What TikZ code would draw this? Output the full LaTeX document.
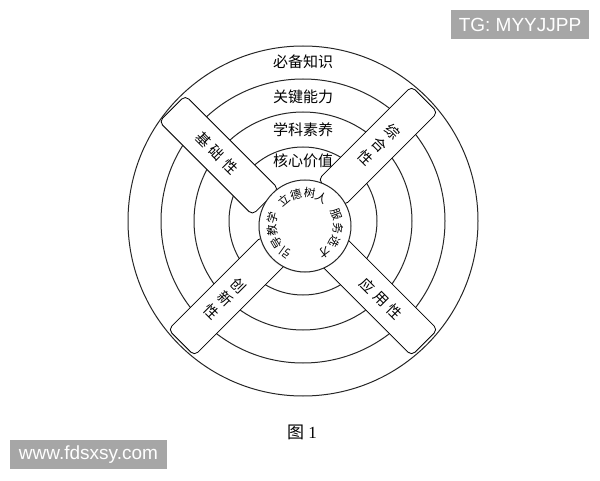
\documentclass[tikz,border=0pt]{standalone}
\usepackage{fontspec}
\setmainfont{Liberation Serif}
\newfontfamily\cjk{Noto Sans CJK SC}
\newfontfamily\wmfont{Liberation Sans}
\usetikzlibrary{calc,positioning,shadows}
\definecolor{wmgray}{RGB}{166,166,166}
\tikzset{ring/.style={draw=black!85, circle, line width=1pt, inner sep=0pt}}
\tikzstyle{bar}=[draw, rectangle, rounded corners=5pt, fill=white, line width=0.8pt, inner sep=0pt,
  minimum width=132pt, minimum height=37pt, drop shadow={shadow xshift=-0.7pt, shadow yshift=-0.7pt, opacity=0.25}]
\tikzstyle{zi}=[inner sep=0pt, font=\cjk\fontsize{14.5}{14.5}\selectfont]
\tikzstyle{wm}=[fill=wmgray, text=white, inner sep=0pt, minimum height=29pt, font=\wmfont\fontsize{19}{19}\selectfont]

\begin{document}
\begin{tikzpicture}[x=1pt, y=1pt]
\useasboundingbox (0,0) rectangle (600,480);
\coordinate (C) at (303,259);
\coordinate (CL) at ($(C)+(225:13)$);
% rings
\node[ring, minimum size=350pt] (r1) at (C) {};
\node[ring, minimum size=284pt] (r2) at (C) {};
\node[ring, minimum size=218pt] (r3) at (C) {};
\node[ring, minimum size=148pt] (r4) at (C) {};
\node[zi, font=\cjk\fontsize{15}{15}\selectfont] (bbzs) at (303,418) {必备知识};
\node[zi, font=\cjk\fontsize{15}{15}\selectfont] (gjnl) at (303,383) {关键能力};
\node[zi, font=\cjk\fontsize{15}{15}\selectfont] (xksy) at (303,350) {学科素养};
\node[zi, font=\cjk\fontsize{15}{15}\selectfont] (hxjz) at (303,319) {核心价值};
% bars
\node[bar, rotate=135] (jichu) at ($(CL)+(135:106)$) {};
\node[bar, rotate=45] (zonghe) at ($(C)+(45:106)$) {};
\node[bar, rotate=225] (chuangxin) at ($(C)+(225:106)$) {};
\node[bar, rotate=315] (yingyong) at ($(C)+(315:106)$) {};
\foreach \ch [count=\i] in {基,础,性}
  \node[zi, rotate=-45] (jc\i) at ($(CL)+(135:{147-19*\i})$) {\ch};
\foreach \ch [count=\i] in {综,合,性}
  \node[zi, rotate=-45] (zh\i) at ($(C)+(45:{146-19*\i})$) {\ch};
\foreach \ch [count=\i] in {创,新,性}
  \node[zi, rotate=-45] (cx\i) at ($(C)+(225:{72+19*\i})$) {\ch};
\foreach \ch [count=\i] in {应,用,性}
  \node[zi, rotate=-45] (yy\i) at ($(C)+(315:{72+19*\i})$) {\ch};
% core
\node[ring, fill=white, minimum size=92pt, drop shadow={shadow xshift=-0.7pt, shadow yshift=-0.7pt, opacity=0.25}] (core) at (305,254) {};
\foreach \a/\ch in {130/立,106/德,82/树,59/人,20/服,-4/务,-28/选,-53/才,-126/引,-149/导,-172/教,165/学}
  \node[zi, font=\cjk\fontsize{11.5}{11.5}\selectfont, rotate=\a-90] at ($(core)+(\a:33)$) {\ch};
\node (cap) at (302,48) {\fontsize{17}{17}\selectfont{\cjk 图}\ 1};
% watermarks
\node[wm, minimum width=138pt] (tg) at (520,455.5) {TG: MYYJJPP};
\node[wm, minimum width=157pt] (www) at (88.5,25.5) {www.fdsxsy.com};
\end{tikzpicture}
\end{document}
